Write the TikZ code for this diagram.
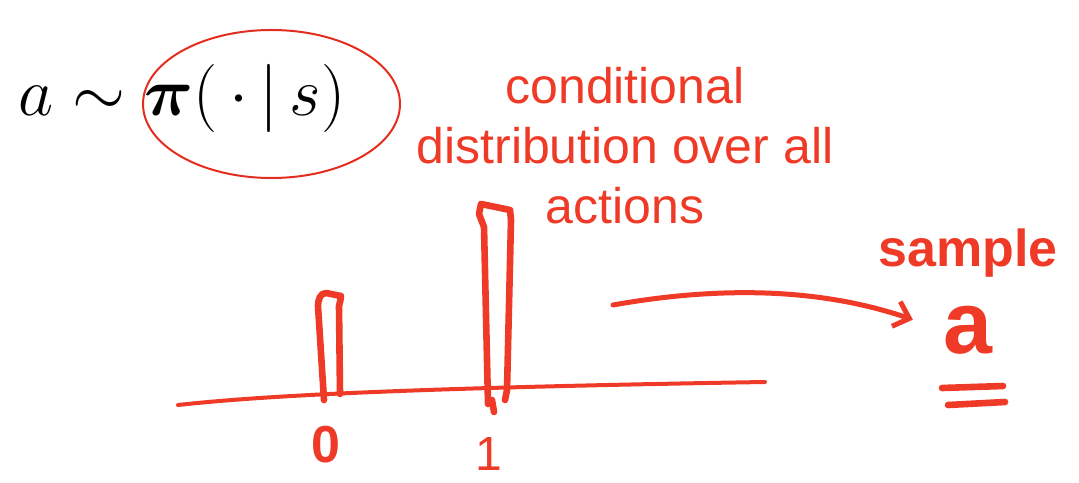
\documentclass[tikz,border=0pt]{standalone}
\usepackage{amsmath, amssymb, bm}
\usepackage{fontspec}
\setsansfont{Liberation Sans}
\usepackage{tikz}
\usetikzlibrary{shapes.geometric, arrows.meta, positioning, calc}
\definecolor{inkred}{RGB}{238,58,38}
\definecolor{circred}{RGB}{228,45,30}

\begin{document}
\begin{tikzpicture}[
    x=0.5pt, y=0.5pt,
    ink/.style={draw=inkred, line width=3.3pt, line cap=round, line join=round},
    axisline/.style={draw=inkred, line width=2pt, line cap=round},
    arrow/.style={-{Straight Barb[length=7pt, width=13pt]}, draw=inkred, line width=2.5pt, line cap=round},
    note/.style={text=inkred, align=center, font=\sffamily\fontsize{25}{30}\selectfont},
    hand/.style={text=inkred, inner sep=0pt, font=\sffamily\bfseries\fontsize{26}{30}\selectfont},
]
\clip (0,0) rectangle (1079,482);

% formula and circled policy
\node[font=\fontsize{24.88}{28}\selectfont, scale=1.37] (formula) at (182,384) {$a \sim \bm{\pi}(\,\cdot\,|\,s)$};
\node[ellipse, draw=circred, line width=1pt, minimum width=128.5pt, minimum height=74pt] (policy) at (271.5,378) {};
\node[note] (desc) at (625,336) {conditional\\distribution over all\\actions};

% axis with two bars
\coordinate (axl) at (178,77);
\coordinate (axr) at (765,100);
\draw[axisline] (axl) .. controls (260,86) and (400,94) .. (axr);
\draw[ink] (324,82) -- (318,176) to[out=90,in=180] (326,189) -- (341,186) to[out=-90,in=80] (339,176) -- (340,88);
\draw[ink] (488,78) -- (484,255) -- (479,268) -- (481,278) -- (510,272) -- (511,262) -- (507,92) -- (505,82);
\draw[ink] (492,82) -- (494,70);
\node[hand] (lab0) at (326,37) {0};
\node[hand, font=\sffamily\fontsize{24}{28}\selectfont] (lab1) at (489,28) {1};

% sampled action
\node[hand, font=\sffamily\bfseries\fontsize{44}{48}\selectfont] (act) at (968,152) {a};
\node[hand, above=14pt of act] (samp) {sample};
\draw[ink] (942,94) -- (1003,96);
\draw[ink] (948,77) -- (1005,80);
\coordinate (arrs) at (613,177);
\draw[arrow, shorten >=16pt] (arrs) .. controls (720,196) and (820,194) .. (act.west);

\end{tikzpicture}
\end{document}
